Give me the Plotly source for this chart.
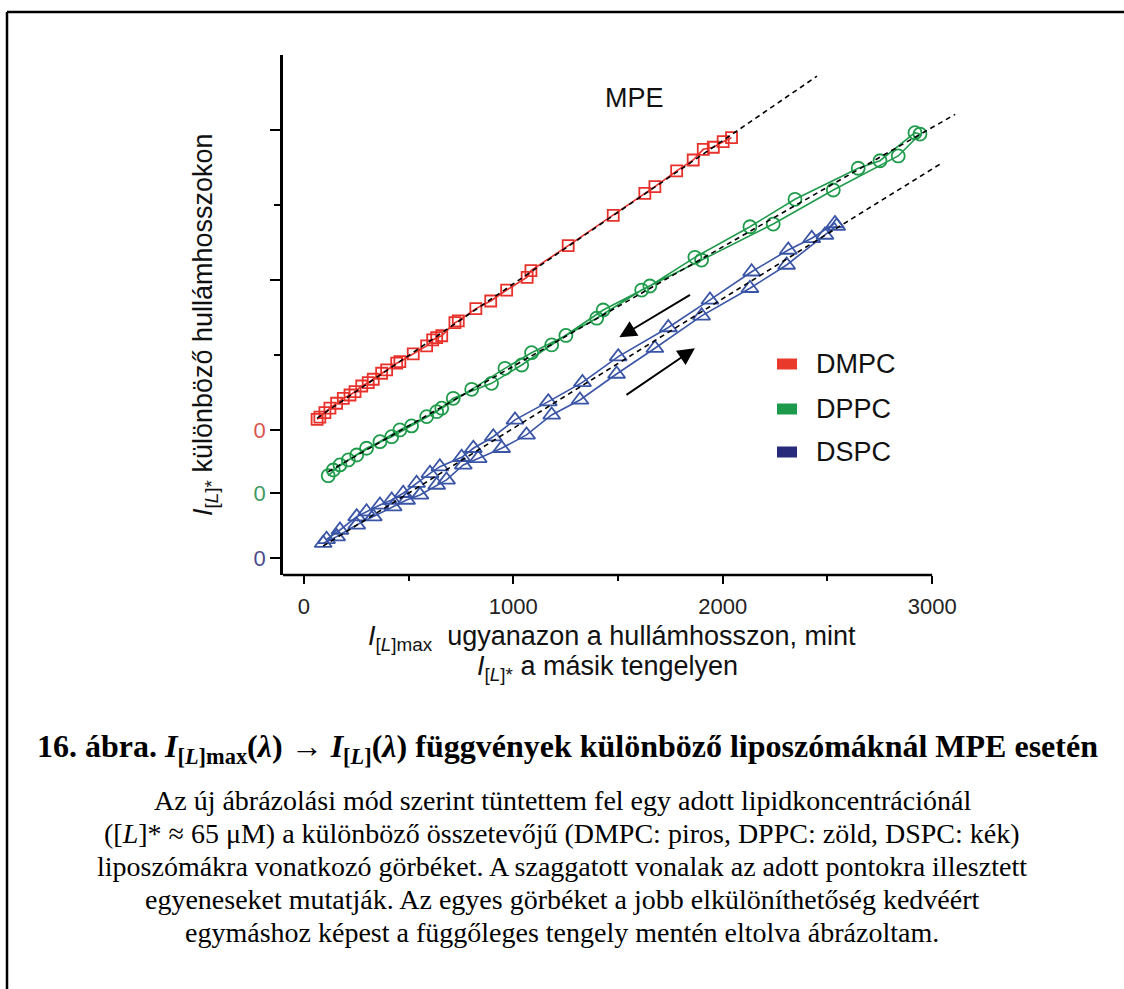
import numpy as np
import plotly.graph_objects as go

W, H = 1124, 989

# ---- data: I[L]max (x) vs I[L]* (y) at the same wavelengths ----
dmpc_x = [63, 76, 100, 124, 156, 188, 220, 244, 276, 307, 331, 371, 395, 443, 458,
          522, 586, 615, 634, 658, 721, 737, 821, 892, 968, 1066, 1084, 1262, 1477,
          1628, 1676, 1780, 1859, 1907, 1955, 2002, 2042]
dmpc_y = [71, 85, 115, 145, 178, 211, 233, 255, 293, 315, 338, 378, 400, 445, 455,
          507, 560, 600, 615, 628, 715, 727, 809, 860, 933, 1018, 1062, 1229, 1431,
          1578, 1622, 1727, 1800, 1871, 1885, 1922, 1949]

# DPPC: heating branch followed by the returning branch
dppc_x = [116, 172, 252, 363, 458, 586, 658, 801, 960, 1087, 1251, 1398, 1613, 1899,
          2241, 2528, 2838, 2942,
          2918, 2751, 2647, 2345, 2130, 1867, 1652, 1429, 1183, 1040, 896, 713, 634,
          514, 419, 299, 212, 140]
dppc_y = [115, 187, 253, 342, 420, 509, 565, 691, 831, 935, 1050, 1165, 1353, 1553,
          1793, 2020, 2247, 2393,
          2402, 2215, 2165, 1958, 1775, 1571, 1380, 1220, 987, 853, 731, 631, 542,
          447, 375, 298, 220, 153]

# DSPC: heating branch followed by the returning branch
dspc_x = [92, 156, 252, 331, 426, 490, 554, 634, 681, 761, 832, 944, 1063, 1183, 1318,
          1493, 1676, 1899, 2130, 2305, 2488, 2544,
          2536, 2425, 2313, 2138, 1939, 1740, 1501, 1330, 1167, 1008, 904, 809, 753,
          649, 602, 538, 474, 419, 363, 299, 252, 172, 108]
dspc_y = [98, 142, 220, 275, 342, 386, 420, 486, 520, 620, 664, 731, 820, 953, 1053,
          1226, 1398, 1614, 1798, 1953, 2153, 2213,
          2230, 2131, 2053, 1908, 1720, 1536, 1342, 1170, 1042, 920, 808, 731, 671,
          608, 564, 498, 431, 386, 353, 308, 275, 186, 124]

names = ["DMPC", "DPPC", "DSPC"]
offsets = [0, 420, 853]          # vertical shift of each curve
fit_x_end = [2450, 3110, 3040]   # how far the fitted lines are extended

x_ticks = [0, 1000, 2000, 3000]
x_minor = [500, 1500, 2500]
y_ticks = [1000, 2000]
y_minor = [500, 1500]

# ---- styling ----
line_col = ["#e8312a", "#1f9b4b", "#3a55a6"]
legend_col = ["#e8392b", "#1c9a4c", "#27297a"]
zero_col = ["#d9544d", "#3e9a62", "#4a4a8a"]
symbols = ["square-open", "circle-open", "triangle-up-open"]
msize = [11, 13, 15]
SANS = "Liberation Sans, Arial, sans-serif"
SERIF = "Liberation Serif, Times New Roman, serif"

def px(x):
    return x / W

def py(y):
    return 1 - y / H

def label(x, y, text, size, family=SANS, color="#111", xanchor="center", **kw):
    return dict(x=px(x), y=py(y), xref="paper", yref="paper", text=text,
                xanchor=xanchor, yanchor="middle", showarrow=False,
                font=dict(family=family, size=size, color=color), **kw)

x_range = [-100, 3150]
y_range = [-967, 2500]
x_dom = [px(283), px(283 + (x_range[1] - x_range[0]) * 0.2094)]
y_dom = [py(575), py(55)]

fig = go.Figure()

datasets = [(dmpc_x, dmpc_y), (dppc_x, dppc_y), (dspc_x, dspc_y)]
for i, (xs, ys) in enumerate(datasets):
    yy = [v - offsets[i] for v in ys]
    fig.add_trace(go.Scatter(
        x=xs, y=yy, mode="lines+markers", name=names[i], showlegend=False,
        line=dict(color=line_col[i], width=1.6),
        marker=dict(symbol=symbols[i], size=msize[i], color=line_col[i],
                    line=dict(width=1.8, color=line_col[i])),
    ))

# fitted straight lines (least squares on each curve)
for i, (xs, ys) in enumerate(datasets):
    yy = np.array(ys, float) - offsets[i]
    k, b = np.polyfit(np.array(xs, float), yy, 1)
    fx = np.array([min(xs), fit_x_end[i]], float)
    fig.add_trace(go.Scatter(
        x=fx, y=k * fx + b, mode="lines", showlegend=False,
        line=dict(color="black", width=1.6, dash="5px,4px"),
    ))

ann = []
# arrows marking the direction of the scan
arrows = [((1851, 907), (1506, 618)), ((1533, 227), (1867, 545))]
for (tx, ty), (hx, hy) in arrows:
    ann.append(dict(x=hx, y=hy, ax=tx, ay=ty, xref="x", yref="y", axref="x", ayref="y",
                    showarrow=True, arrowhead=2, arrowsize=1.8, arrowwidth=1.9,
                    arrowcolor="black", text=""))

ann.append(label(603, 98, "MPE", 27, xanchor="left"))

shapes = []
leg_y = [364, 409, 452]
for i in range(3):
    shapes.append(dict(type="rect", xref="paper", yref="paper",
                       x0=px(777), x1=px(797), y0=py(leg_y[i] - 5.5), y1=py(leg_y[i] + 5.5),
                       fillcolor=legend_col[i], line=dict(width=0)))
    ann.append(label(814, leg_y[i], names[i], 27, xanchor="left"))

# bottom axis line stops at the last tick
shapes.append(dict(type="line", xref="x", yref="paper", x0=x_range[0], x1=3000,
                   y0=y_dom[0], y1=y_dom[0], line=dict(color="black", width=2.5)))

# frame around the figure block
shapes.append(dict(type="line", xref="paper", yref="paper", x0=px(7), x1=1.02,
                   y0=py(12), y1=py(12), line=dict(color="black", width=2.5)))
shapes.append(dict(type="line", xref="paper", yref="paper", x0=px(7), x1=px(7),
                   y0=py(12), y1=-0.02, line=dict(color="black", width=2.5)))

# axis titles
ann.append(label(205, 325, "<i>I</i><sub>[<i>L</i>]*</sub> különböző hullámhosszokon",
                 27, textangle=-90))
ann.append(label(612, 638,
                 "<i>I</i><sub>[<i>L</i>]max</sub>  ugyanazon a hullámhosszon, mint", 27))
ann.append(label(607, 668, "<i>I</i><sub>[<i>L</i>]*</sub> a másik tengelyen", 27))

# caption
ann.append(label(567, 748,
                 "<b>16. ábra. <i>I</i><sub>[<i>L</i>]max</sub>(<i>λ</i>) → "
                 "<i>I</i><sub>[<i>L</i>]</sub>(<i>λ</i>) függvények különböző "
                 "liposzómáknál MPE esetén</b>", 32, family=SERIF, color="black"))
para = [
    "Az új ábrázolási mód szerint tüntettem fel egy adott lipidkoncentrációnál",
    "([<i>L</i>]* ≈ 65 μM) a különböző összetevőjű (DMPC: piros, DPPC: zöld, DSPC: kék)",
    "liposzómákra vonatkozó görbéket. A szaggatott vonalak az adott pontokra illesztett",
    "egyeneseket mutatják. Az egyes görbéket a jobb elkülöníthetőség kedvéért",
    "egymáshoz képest a függőleges tengely mentén eltolva ábrázoltam.",
]
for j, line in enumerate(para):
    ann.append(label(562, 800 + 33 * j, line, 28, family=SERIF, color="black"))

y_vals = [-o for o in offsets[::-1]] + y_ticks
y_text = [f'<span style="color:{c}">0</span>' for c in zero_col[::-1]] + ["" for _ in y_ticks]

fig.update_layout(
    width=W, height=H, autosize=False,
    margin=dict(l=0, r=0, t=0, b=0),
    paper_bgcolor="white", plot_bgcolor="rgba(0,0,0,0)",
    showlegend=False,
    xaxis=dict(domain=x_dom, range=x_range, showline=False, showgrid=False, zeroline=False,
               ticks="outside", tickmode="array", tickvals=x_ticks,
               ticklen=8, tickwidth=2, tickcolor="black", ticklabelstandoff=4,
               tickfont=dict(family=SANS, size=22, color="#222"),
               minor=dict(tickmode="array", tickvals=x_minor, ticks="outside",
                          ticklen=5, tickwidth=2, tickcolor="black")),
    yaxis=dict(domain=y_dom, range=y_range, showline=True, linewidth=2.5, linecolor="black",
               showgrid=False, zeroline=False,
               ticks="outside", tickmode="array", tickvals=y_vals, ticktext=y_text,
               ticklen=10, tickwidth=2, tickcolor="black",
               tickfont=dict(family=SANS, size=22),
               minor=dict(tickmode="array", tickvals=y_minor, ticks="outside",
                          ticklen=6, tickwidth=2, tickcolor="black")),
    shapes=shapes, annotations=ann,
)

fig.write_html("out.html")
